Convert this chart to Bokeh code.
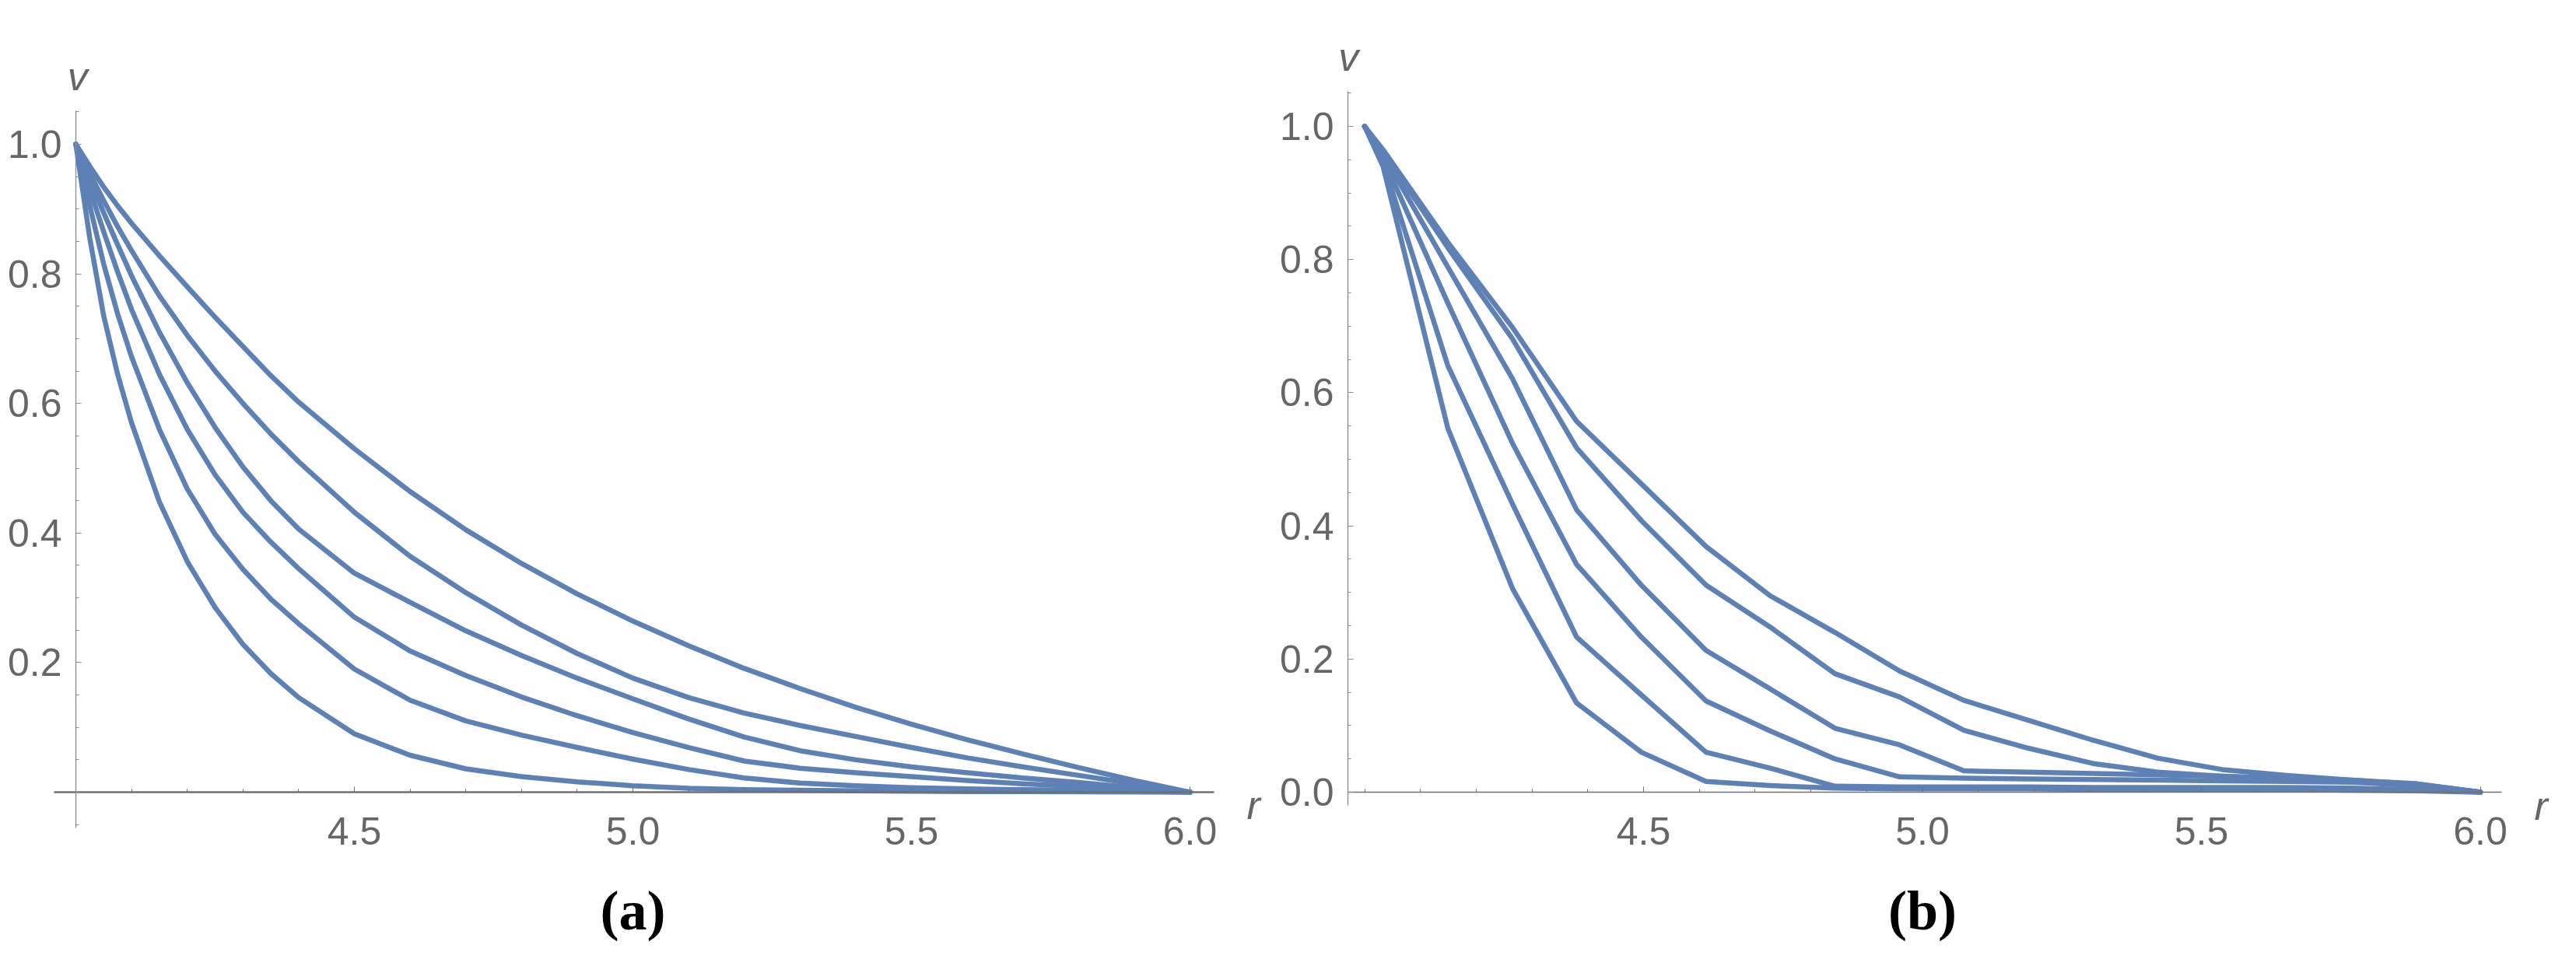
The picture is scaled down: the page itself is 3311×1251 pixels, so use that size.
from bokeh.plotting import figure
from bokeh.models import LinearAxis, FixedTicker, PrintfTickFormatter, Label, Range1d
from bokeh.layouts import row
from bokeh.embed import file_html
from bokeh.resources import INLINE

# ---------------- data: panel (a), smooth curves ----------------
r_a = [4.0, 4.025, 4.05, 4.075, 4.1, 4.15, 4.2, 4.25, 4.3, 4.35, 4.4, 4.5, 4.6, 4.7,
       4.8, 4.9, 5.0, 5.1, 5.2, 5.3, 5.4, 5.5, 5.6, 5.7, 5.8, 5.9, 6.0]
va_1 = [1.0, 0.966, 0.934, 0.905, 0.878, 0.828, 0.780, 0.733, 0.688, 0.643, 0.602, 0.530,
        0.464, 0.405, 0.353, 0.306, 0.264, 0.226, 0.191, 0.160, 0.131, 0.105, 0.081, 0.059,
        0.038, 0.018, 0.0]
va_2 = [1.0, 0.955, 0.913, 0.873, 0.836, 0.766, 0.705, 0.650, 0.600, 0.553, 0.510, 0.432,
        0.364, 0.308, 0.258, 0.214, 0.176, 0.146, 0.122, 0.103, 0.086, 0.069, 0.053, 0.039,
        0.026, 0.013, 0.0]
va_3 = [1.0, 0.945, 0.894, 0.845, 0.797, 0.710, 0.632, 0.563, 0.502, 0.450, 0.406, 0.338,
        0.293, 0.249, 0.211, 0.176, 0.144, 0.113, 0.085, 0.064, 0.050, 0.039, 0.030, 0.022,
        0.015, 0.007, 0.0]
va_4 = [1.0, 0.930, 0.865, 0.803, 0.745, 0.645, 0.560, 0.490, 0.432, 0.386, 0.345, 0.270,
        0.218, 0.180, 0.147, 0.118, 0.092, 0.069, 0.048, 0.037, 0.030, 0.024, 0.018, 0.013,
        0.009, 0.005, 0.0]
va_5 = [1.0, 0.905, 0.815, 0.738, 0.672, 0.560, 0.468, 0.398, 0.344, 0.298, 0.260, 0.190,
        0.142, 0.110, 0.088, 0.069, 0.051, 0.035, 0.022, 0.014, 0.010, 0.007, 0.005, 0.004,
        0.003, 0.002, 0.0]
va_6 = [1.0, 0.855, 0.735, 0.645, 0.570, 0.448, 0.356, 0.285, 0.228, 0.183, 0.146, 0.090,
        0.057, 0.036, 0.024, 0.016, 0.010, 0.006, 0.004, 0.003, 0.002, 0.0015, 0.001, 0.001,
        0.0005, 0.0003, 0.0]

# ---------------- data: panel (b), piecewise-linear curves ----------------
r_b = [4.0, 4.033, 4.149, 4.265, 4.380, 4.496, 4.612, 4.727, 4.843, 4.959, 5.074, 5.190,
       5.306, 5.422, 5.537, 5.653, 5.769, 5.884, 6.0]
vb_1 = [1.0, 0.965, 0.826, 0.698, 0.557, 0.463, 0.369, 0.295, 0.240, 0.182, 0.138, 0.108,
        0.078, 0.051, 0.034, 0.025, 0.018, 0.013, 0.0]
vb_2 = [1.0, 0.962, 0.818, 0.681, 0.517, 0.408, 0.311, 0.248, 0.178, 0.143, 0.093, 0.066,
        0.043, 0.030, 0.024, 0.020, 0.017, 0.012, 0.0]
vb_3 = [1.0, 0.958, 0.789, 0.621, 0.424, 0.311, 0.213, 0.155, 0.096, 0.071, 0.032, 0.030,
        0.028, 0.026, 0.024, 0.021, 0.018, 0.012, 0.0]
vb_4 = [1.0, 0.952, 0.735, 0.524, 0.342, 0.233, 0.137, 0.092, 0.050, 0.023, 0.021, 0.020,
        0.019, 0.018, 0.017, 0.016, 0.015, 0.010, 0.0]
vb_5 = [1.0, 0.946, 0.641, 0.433, 0.233, 0.146, 0.060, 0.036, 0.009, 0.008, 0.008, 0.008,
        0.007, 0.007, 0.007, 0.007, 0.006, 0.004, 0.0]
vb_6 = [1.0, 0.940, 0.547, 0.306, 0.134, 0.060, 0.016, 0.010, 0.006, 0.005, 0.005, 0.005,
        0.004, 0.004, 0.004, 0.004, 0.003, 0.002, 0.0]

x_major = [4.5, 5.0, 5.5, 6.0]
ya_major = [0.2, 0.4, 0.6, 0.8, 1.0]
yb_major = [0.0, 0.2, 0.4, 0.6, 0.8, 1.0]

LINE = "#5E81B5"
TICK_FONT = "Liberation Sans"
LABEL_GRAY = "#666666"


def minor_list(start, stop, step, majors):
    out = []
    n = int(round((stop - start) / step))
    for i in range(n + 1):
        t = round(start + i * step, 3)
        if all(abs(t - m) > 1e-6 for m in majors):
            out.append(t)
    return out


def style_axis(ax, color, lw, standoff):
    ax.axis_line_color = color
    ax.axis_line_width = lw
    ax.major_tick_line_color = color
    ax.minor_tick_line_color = color
    ax.major_tick_in = 7
    ax.major_tick_out = 0
    ax.minor_tick_in = 4
    ax.minor_tick_out = 0
    ax.major_label_text_font = TICK_FONT
    ax.major_label_text_font_size = "50px"
    ax.major_label_text_color = LABEL_GRAY
    ax.major_label_standoff = standoff
    ax.formatter = PrintfTickFormatter(format="%.1f")


def make_panel(width, height, xr, yr, yaxis_at, xbounds, ybounds, y_major, y_minor_start,
               xaxis_lw, rs, series, v_lbl, r_lbl, cap, cap_pos):
    p = figure(width=width, height=height, x_range=Range1d(*xr), y_range=Range1d(*yr),
               output_backend="svg", toolbar_location=None,
               x_axis_type=None, y_axis_type=None, min_border=0)
    p.outline_line_color = None
    p.background_fill_color = "white"
    p.border_fill_color = "white"

    xa = LinearAxis(fixed_location=0.0, bounds=xbounds,
                    ticker=FixedTicker(ticks=x_major,
                                       minor_ticks=minor_list(4.0, 6.0, 0.1, x_major)))
    style_axis(xa, "#6f6f6f", xaxis_lw, 32)
    p.add_layout(xa, "below")

    ya = LinearAxis(fixed_location=yaxis_at, bounds=ybounds,
                    ticker=FixedTicker(ticks=y_major,
                                       minor_ticks=minor_list(y_minor_start, 1.05, 0.05, y_major)))
    style_axis(ya, "#8a8a8a", 1.3, 18)
    p.add_layout(ya, "left")

    for vs in series:
        p.line(rs, vs, line_color=LINE, line_width=6.5, line_join="round", line_cap="round")

    p.add_layout(Label(x=v_lbl[0], y=v_lbl[1], text="v", text_font=TICK_FONT,
                       text_font_style="italic", text_font_size="52px", text_color=LABEL_GRAY,
                       text_align="center", text_baseline="alphabetic"))
    p.add_layout(Label(x=r_lbl[0], y=r_lbl[1], text="r", text_font=TICK_FONT,
                       text_font_style="italic", text_font_size="52px", text_color=LABEL_GRAY,
                       text_align="left", text_baseline="alphabetic"))
    p.add_layout(Label(x=cap_pos[0], y=cap_pos[1], text=cap, text_font="Liberation Serif",
                       text_font_style="bold", text_font_size="72px", text_color="black",
                       text_align="center", text_baseline="middle"))
    return p


H = 1235
p1 = make_panel(1632, H, (3.86453, 6.14386), (-0.26050, 1.22209), 4.0,
                (3.961, 6.043), (-0.055, 1.052), ya_major, -0.05, 2.5,
                r_a, [va_1, va_2, va_3, va_4, va_5, va_6],
                (4.003, 1.1056), (6.102, -0.0204), "(a)", (5.0, -0.1825))
p2 = make_panel(1658, H, (3.83054, 6.14295), (-0.25350, 1.18925), 3.970,
                (3.970, 6.038), (-0.020, 1.053), yb_major, 0.0, 1.6,
                r_b, [vb_1, vb_2, vb_3, vb_4, vb_5, vb_6],
                (3.971, 1.105), (6.097, -0.0199), "(b)", (5.0, -0.1776))

layout = row(p1, p2, spacing=0)
open("out.html", "w").write(file_html(layout, INLINE))
